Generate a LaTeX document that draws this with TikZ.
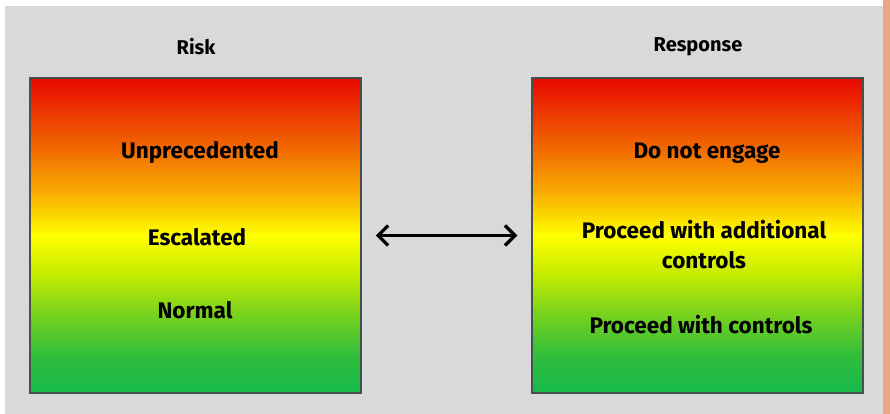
\documentclass[tikz,border=0pt]{standalone}
\usepackage{fontspec}
\setmainfont{Fira Sans}
\usepackage{tikz}
\usetikzlibrary{positioning,arrows.meta}
\usepackage{xcolor}
\definecolor{panelgray}{RGB}{217,217,217}
\definecolor{edgeorange}{RGB}{234,166,136}
\definecolor{boxborder}{RGB}{70,80,80}
\definecolor{riskred}{RGB}{232,8,0}
\definecolor{riskorange}{RGB}{240,95,0}
\definecolor{riskamber}{RGB}{248,170,0}
\definecolor{riskyellow}{RGB}{255,255,0}
\definecolor{risklime}{RGB}{195,235,0}
\definecolor{risklightgreen}{RGB}{120,210,30}
\definecolor{riskgreen}{RGB}{50,190,60}
\definecolor{riskdeepgreen}{RGB}{20,185,75}

% red at the top, green at the bottom (path spans 25bp..75bp)
\pgfdeclareverticalshading{riskshade}{100bp}{%
  color(0bp)=(riskdeepgreen); color(25bp)=(riskdeepgreen);
  color(31bp)=(riskgreen); color(37.5bp)=(risklightgreen);
  color(43.75bp)=(risklime); color(50bp)=(riskyellow);
  color(57bp)=(riskamber); color(65bp)=(riskorange);
  color(75bp)=(riskred); color(100bp)=(riskred)}

\begin{document}
\begin{tikzpicture}[
    x=1pt, y=-1pt,
    title/.style={font=\fontsize{20}{24}\selectfont\bfseries, align=center},
    label/.style={font=\fontsize{22.5}{30}\selectfont\bfseries, align=center},
    scalebox/.style={draw=boxborder, line width=1.5pt, shade, shading=riskshade,
        minimum width=331pt, minimum height=315pt, inner sep=0pt},
    arrow/.style={line width=3.2pt, {Straight Barb[length=10pt,width=20pt]}-{Straight Barb[length=10pt,width=20pt]},
        shorten <=14pt, shorten >=14pt}
]
\useasboundingbox (0,0) rectangle (890,414);

% Background
\fill[white] (0,0) rectangle (890,414);
\fill[panelgray] (5,6) rectangle (883,414);
\fill[edgeorange] (883,0) rectangle (890,414);

% Define the two scales
\node[scalebox] (riskbox) at (195.5,235.5) {};
\node[scalebox] (respbox) at (697.5,235.5) {};

\node[title] (risktitle) at (196,47) {Risk};
\node[title] (resptitle) at (698,47) {Response};

% Risk levels
\node[label] (unprecedented) at (200,152) {Unprecedented};
\node[label] (escalated) at (197,237) {Escalated};
\node[label] (normal) at (195,310) {Normal};

% Responses
\node[label] (noengage) at (707,153) {Do not engage};
\node[label] (additional) at (704,245) {Proceed with additional\\controls};
\node[label] (controls) at (701,325) {Proceed with controls};

% Connect the scales
\draw[arrow] (riskbox) -- (respbox);

\end{tikzpicture}
\end{document}
